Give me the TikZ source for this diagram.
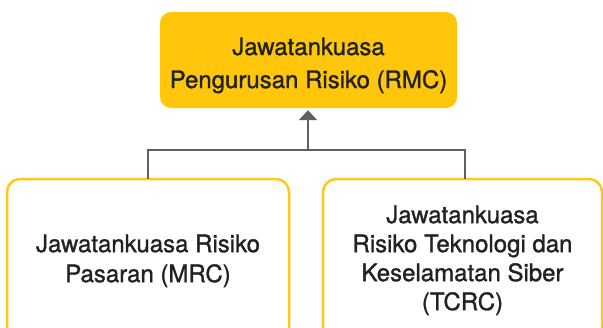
\documentclass[tikz,border=0pt]{standalone}
\usepackage{fontspec}
\setmainfont{TeX Gyre Heros}[FakeBold=1.2]
\usetikzlibrary{arrows.meta}
\definecolor{gold}{HTML}{FFC60B}
\definecolor{goldline}{HTML}{FFC81A}
\definecolor{conngray}{HTML}{606060}
\definecolor{txtcol}{HTML}{222222}
\tikzset{
  topbox/.style={draw=none, fill=gold, rounded corners=11pt, minimum width=297pt, minimum height=96pt, inner sep=0pt},
  subbox/.style={draw=goldline, line width=2.5pt, fill=white, rounded corners=13pt, inner sep=0pt},
  txt/.style={align=center, text=txtcol, inner sep=0pt},
  conn/.style={draw=conngray, line width=2pt},
}
\begin{document}
\begin{tikzpicture}[x=1pt,y=-1pt]
\useasboundingbox (0,0) rectangle (603,327);
\clip (0,0) rectangle (603,327);
\node[topbox] (rmc) at (308.5,60) {};
\node[txt, font=\fontsize{24}{33}\selectfont] (rmct) at (308.5,65.4) {Jawatankuasa\\Pengurusan Risiko (RMC)};
\node[subbox, minimum width=282pt, minimum height=161pt] (mrc) at (148,259.5) {};
\node[txt, font=\fontsize{24}{30}\selectfont] (mrct) at (148,260.9) {Jawatankuasa Risiko\\Pasaran (MRC)};
\node[subbox, minimum width=279pt, minimum height=161pt] (tcrc) at (462.5,259.5) {};
\node[txt, font=\fontsize{24}{29}\selectfont] (tcrct) at (462.5,260.4) {Jawatankuasa\\Risiko Teknologi dan\\Keselamatan Siber\\(TCRC)};
\coordinate (hub) at (308,150);
\draw[conn] ([yshift=-1.25pt]mrc.north) |- (hub) -| ([xshift=2.5pt,yshift=-1.25pt]tcrc.north);
\draw[conn, -{Triangle[width=18pt,length=10pt]}, shorten >=2pt] (hub) -- (hub |- rmc.south);
\end{tikzpicture}
\end{document}
